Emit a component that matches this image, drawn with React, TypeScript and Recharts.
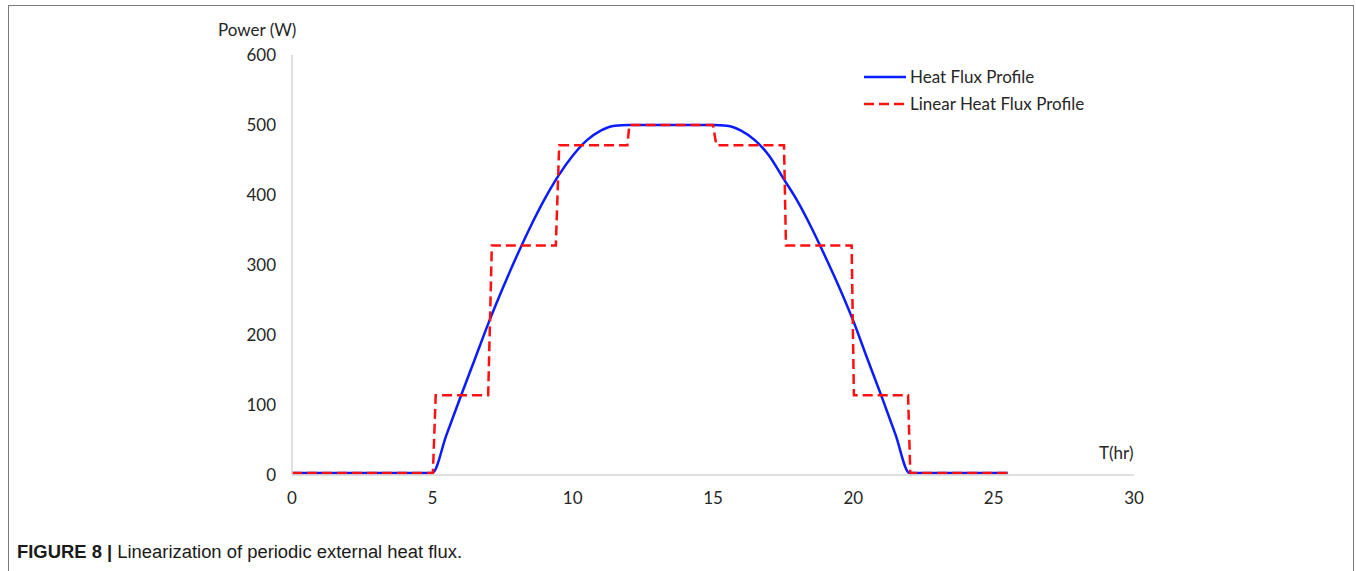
import React from "react";
import { LineChart, Line, XAxis, YAxis } from "recharts";

// time (hr) vs power (W)
const heatFluxT = [0, 5, 5.5, 6, 6.5, 7, 7.5, 8, 8.5, 9, 9.5, 10, 10.5, 11, 11.5, 12, 15, 15.5, 16, 16.5, 17, 17.5, 18, 18.5, 19, 19.5, 20, 20.5, 21, 21.5, 22, 25.5];
const heatFluxP = [3, 3, 57, 111, 164, 217, 266, 312, 355, 394, 428, 456, 478, 492, 499, 500, 500, 499, 492, 478, 456, 424, 392, 354, 312, 268, 220, 166, 113, 58, 3, 3];

const linearT = [0, 5.02, 5.12, 6.99, 7.12, 9.4, 9.52, 11.95, 12.02, 15.0, 15.12, 17.53, 17.6, 19.94, 20.02, 21.95, 22.03, 25.5];
const linearP = [3, 3, 114, 114, 328, 328, 471, 471, 500, 500, 471, 471, 328, 328, 114, 114, 3, 3];

const xTicks = [0, 5, 10, 15, 20, 25, 30];
const yTicks = [0, 100, 200, 300, 400, 500, 600];

const heatFlux = heatFluxT.map((t, i) => ({ t, p: heatFluxP[i] }));
const linearFlux = linearT.map((t, i) => ({ t, p: linearP[i] }));

const FONT = "Lato, 'Open Sans', sans-serif";
const TEXT = "#262626";

const legendItems = [
  { name: "Heat Flux Profile", color: "#0a1cff", dash: undefined },
  { name: "Linear Heat Flux Profile", color: "#ff1010", dash: "10 5" },
];

const ChartLegend = () => (
  <div style={{ position: "absolute", left: 864, top: 63, fontFamily: FONT, fontSize: 17, color: TEXT }}>
    {legendItems.map((item) => (
      <div key={item.name} style={{ display: "flex", alignItems: "center", height: 27 }}>
        <svg width={42} height={6} style={{ marginRight: 4 }}>
          <line x1={0} y1={3} x2={42} y2={3} stroke={item.color} strokeWidth={2.5} strokeDasharray={item.dash} />
        </svg>
        <span>{item.name}</span>
      </div>
    ))}
  </div>
);

export default function App() {
  return (
    <div style={{ position: "fixed", left: 0, top: 0, width: 1356, height: 571, background: "#fff", overflow: "hidden" }}>
      <div style={{ position: "absolute", left: 8, top: 5, width: 1344, height: 620, border: "1.5px solid #7a7a7a" }} />
      <div style={{ position: "absolute", left: 218, top: 19, fontFamily: FONT, fontSize: 17, color: TEXT }}>Power (W)</div>
      <div style={{ position: "absolute", left: 1099, top: 442, fontFamily: FONT, fontSize: 17, color: TEXT }}>T(hr)</div>
      <div style={{ position: "absolute", left: 0, top: 0 }}>
        <LineChart width={1356} height={571} margin={{ top: 55, left: 232, right: 222, bottom: 66 }}>
          <XAxis
            type="number"
            dataKey="t"
            domain={[0, 30]}
            ticks={xTicks}
            height={30}
            tickLine={false}
            tickSize={0}
            tickMargin={17}
            axisLine={{ stroke: "#d4d4d4", strokeWidth: 1.5 }}
            tick={{ fill: TEXT, fontSize: 17, fontFamily: FONT }}
            allowDuplicatedCategory={false}
          />
          <YAxis
            type="number"
            domain={[0, 600]}
            ticks={yTicks}
            width={60}
            tickLine={false}
            tickSize={0}
            tickMargin={16}
            axisLine={{ stroke: "#d4d4d4", strokeWidth: 1.5 }}
            tick={{ fill: TEXT, fontSize: 17, fontFamily: FONT }}
          />
          <Line
            data={heatFlux}
            dataKey="p"
            name="Heat Flux Profile"
            type="monotone"
            stroke="#0a1cff"
            strokeWidth={2.5}
            dot={false}
            isAnimationActive={false}
          />
          <Line
            data={linearFlux}
            dataKey="p"
            name="Linear Heat Flux Profile"
            type="linear"
            stroke="#ff1010"
            strokeWidth={2.5}
            strokeDasharray="10 5"
            dot={false}
            isAnimationActive={false}
          />
        </LineChart>
      </div>
      <ChartLegend />
      <svg style={{ position: "absolute", left: 0, top: 530 }} width={600} height={40}>
        <text x={17} y={28} fontFamily="'Liberation Sans', Arial, sans-serif" fontSize={18} fill="#1a1a1a" textLength={445} lengthAdjust="spacingAndGlyphs">
          <tspan fontWeight="bold">FIGURE 8 |</tspan>
          <tspan> Linearization of periodic external heat flux.</tspan>
        </text>
      </svg>
    </div>
  );
}
